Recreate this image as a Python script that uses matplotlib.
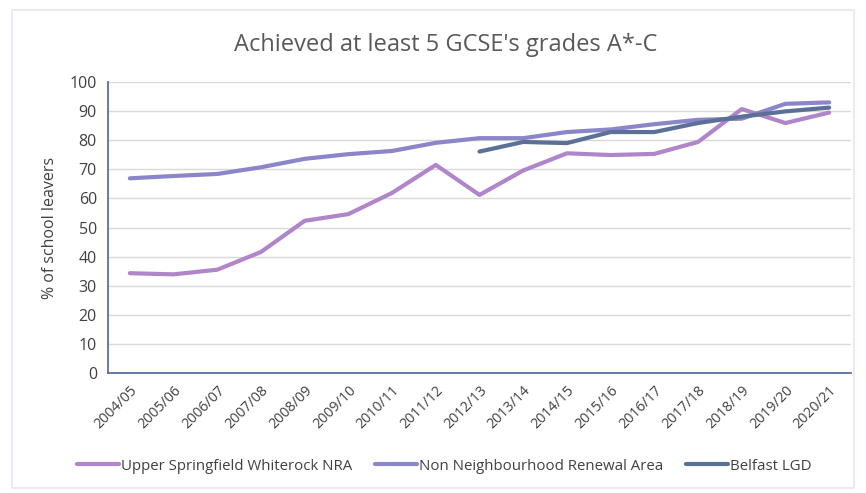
import matplotlib
matplotlib.use("Agg")
import matplotlib.pyplot as plt
from matplotlib.patches import Rectangle

categories = ["2004/05", "2005/06", "2006/07", "2007/08", "2008/09", "2009/10",
              "2010/11", "2011/12", "2012/13", "2013/14", "2014/15", "2015/16",
              "2016/17", "2017/18", "2018/19", "2019/20", "2020/21"]
usw_nra = [34.3, 33.9, 35.5, 41.6, 52.3, 54.6, 61.9, 71.5, 61.2, 69.6, 75.5, 74.9,
           75.3, 79.4, 90.7, 85.9, 89.5]
non_nra = [66.9, 67.7, 68.4, 70.7, 73.6, 75.2, 76.3, 79.1, 80.7, 80.7, 82.8, 83.7,
           85.5, 87.0, 87.4, 92.5, 93.0]
belfast_cats = categories[8:]
belfast = [76.1, 79.4, 79.0, 82.8, 82.8, 85.9, 88.1, 89.9, 91.2]

plt.rcParams['font.family'] = ['Open Sans', 'DejaVu Sans']

fig = plt.figure(figsize=(8.66, 4.93), dpi=100)
fig.patches.append(Rectangle((12/866, 1-488/493), 842/866, 478/493, transform=fig.transFigure,
                             fill=False, edgecolor='#ece4f2', linewidth=1.2))
ax = fig.add_axes([108/866, 1-373/493, (851-108)/866, (373-82)/493])

x = list(range(len(categories)))
xb = [categories.index(c) for c in belfast_cats]
lw = 3.0
ax.plot(x, usw_nra, color='#b085c9', lw=lw, label='Upper Springfield Whiterock NRA', solid_capstyle='round')
ax.plot(x, non_nra, color='#8a86c9', lw=lw, label='Non Neighbourhood Renewal Area', solid_capstyle='round')
ax.plot(xb, belfast, color='#5a7096', lw=lw, label='Belfast LGD', solid_capstyle='round')

ax.set_xlim(-0.5, len(categories) - 0.5)
ax.set_ylim(0, 100)
ax.set_yticks(range(0, 101, 10))
ax.set_xticks(x)
ax.set_xticklabels(categories, rotation=45, ha='right', rotation_mode='anchor', fontsize=10.3, color='#404040')
ax.tick_params(axis='y', labelsize=11.5, colors='#404040', length=0, pad=8)
ax.tick_params(axis='x', length=0, pad=7)
ax.grid(axis='y', color='#d9d9d9', lw=1)
ax.set_axisbelow(True)
for s in ['top', 'right']:
    ax.spines[s].set_visible(False)
for s in ['left', 'bottom']:
    ax.spines[s].set_color('#5b6f9a')
    ax.spines[s].set_linewidth(1.3)

ax.set_ylabel('% of school leavers', fontsize=11.5, color='#404040', labelpad=8)
fig.text(446/866, 1-45/493, "Achieved at least 5 GCSE's grades A*-C", ha='center', va='center',
         fontsize=17, color='#595959')

leg = fig.legend(loc='center', bbox_to_anchor=(444/866, 1-466/493), ncol=3, frameon=False,
                 fontsize=10.8, handlelength=2.8, handletextpad=0.15, columnspacing=1.5)
for t in leg.get_texts():
    t.set_color('#404040')

fig.savefig('out.png', dpi=100)
